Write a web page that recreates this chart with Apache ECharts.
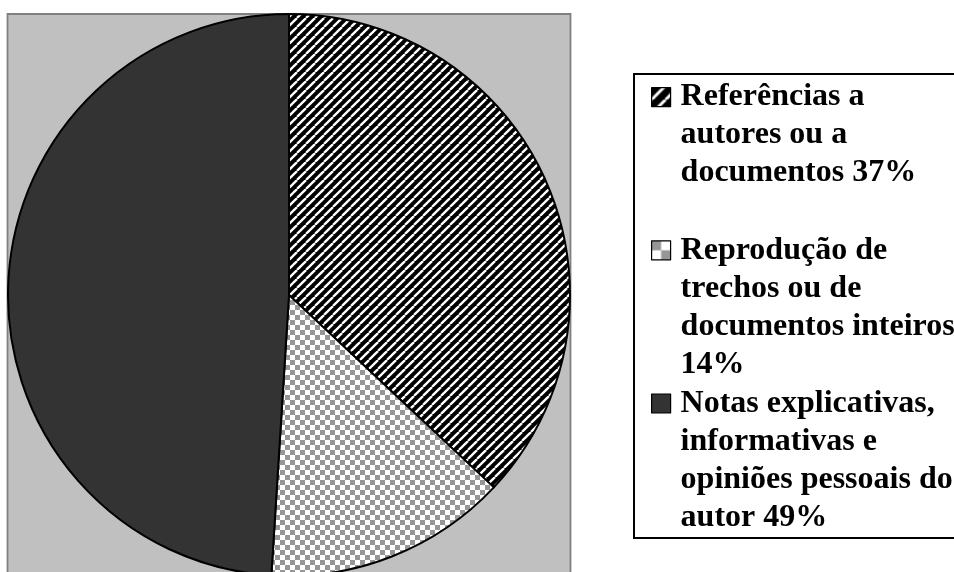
<!DOCTYPE html>
<html>
<head>
<meta charset="utf-8">
<script src="https://cdn.jsdelivr.net/npm/echarts@6/dist/echarts.min.js"></script>
<style>
html,body{margin:0;padding:0;background:#fff;}
#c{width:954px;height:572px;}
</style>
</head>
<body>
<div id="c"></div>
<script>
// ---- data ----
const categories = [
  'Referências a\nautores ou a\ndocumentos 37%',
  'Reprodução de\ntrechos ou de\ndocumentos inteiros\n14%',
  'Notas explicativas,\ninformativas e\nopiniões pessoais do\nautor 49%'
];
const values = [37, 14, 49];

// ---- styles ----
function stripePattern(p, w, oy) {
  const c = document.createElement('canvas');
  c.width = c.height = p;
  const g = c.getContext('2d');
  g.fillStyle = '#000'; g.fillRect(0, 0, p, p);
  g.strokeStyle = '#fff'; g.lineWidth = w;
  for (const o of [-p, 0, p]) {
    g.beginPath(); g.moveTo(o, p); g.lineTo(o + p, 0); g.stroke();
  }
  return { image: c, repeat: 'repeat', x: 0, y: oy || 0 };
}
function checkerPattern(s, oy) {
  const c = document.createElement('canvas');
  c.width = c.height = 2 * s;
  const g = c.getContext('2d');
  g.fillStyle = '#fff'; g.fillRect(0, 0, 2 * s, 2 * s);
  g.fillStyle = '#969696';
  g.fillRect(0, 0, s, s); g.fillRect(s, s, s, s);
  return { image: c, repeat: 'repeat', x: 0, y: oy || 0 };
}

const LH = 38;                 // legend line height
const ITEM_H = LH * 4;         // each legend entry spans 4 lines
const ICON = 19;
const firstLineCenter = ITEM_H / 2 - 1.5 * LH;
const iconTop = firstLineCenter - ICON / 2;
const iconPath = 'path://M0,0L0,0M24,' + ITEM_H + 'L24,' + ITEM_H +
  'M0,' + iconTop + 'L' + ICON + ',' + iconTop +
  'L' + ICON + ',' + (iconTop + ICON) + 'L0,' + (iconTop + ICON) + 'Z';

const pieFills = [stripePattern(9, 2.3), checkerPattern(5), '#333333'];
const legendFills = [stripePattern(14, 3, iconTop - 2), checkerPattern(ICON / 2, iconTop), '#333333'];

const chart = echarts.init(document.getElementById('c'), null, { renderer: 'canvas' });
chart.setOption({
  animation: false,
  graphic: [
    { type: 'rect', z: -10, shape: { x: 7.5, y: 14, width: 563, height: 600 },
      style: { fill: '#c0c0c0', stroke: '#808080', lineWidth: 1.8 }, silent: true },
    { type: 'rect', z: -10, shape: { x: 634, y: 74, width: 340, height: 464 },
      style: { fill: '#fff', stroke: '#000', lineWidth: 2 }, silent: true }
  ],
  legend: {
    orient: 'vertical',
    left: 651,
    top: 96.5 - firstLineCenter,
    padding: 0,
    itemGap: 0,
    itemWidth: 24,
    itemHeight: ITEM_H,
    selectedMode: false,
    icon: iconPath,
    itemStyle: { borderColor: '#000', borderWidth: 1.2 },
    formatter: function (n) {
      const k = n.split('\n').length;
      return n + '\n'.repeat(Math.max(0, 4 - k));
    },
    textStyle: {
      fontFamily: 'Liberation Serif',
      fontWeight: 'bold',
      fontSize: 32,
      lineHeight: LH,
      color: '#000'
    },
    data: categories.map((n, i) => ({ name: n, itemStyle: { color: legendFills[i] } }))
  },
  series: [{
    type: 'pie',
    center: [289, 295],
    radius: [0, 281],
    startAngle: 90,
    clockwise: true,
    label: { show: false },
    labelLine: { show: false },
    emphasis: { disabled: true },
    itemStyle: { borderColor: '#000', borderWidth: 2 },
    data: categories.map((name, i) => ({
      name: name,
      value: values[i],
      itemStyle: { color: pieFills[i] }
    }))
  }]
});
</script>
</body>
</html>
